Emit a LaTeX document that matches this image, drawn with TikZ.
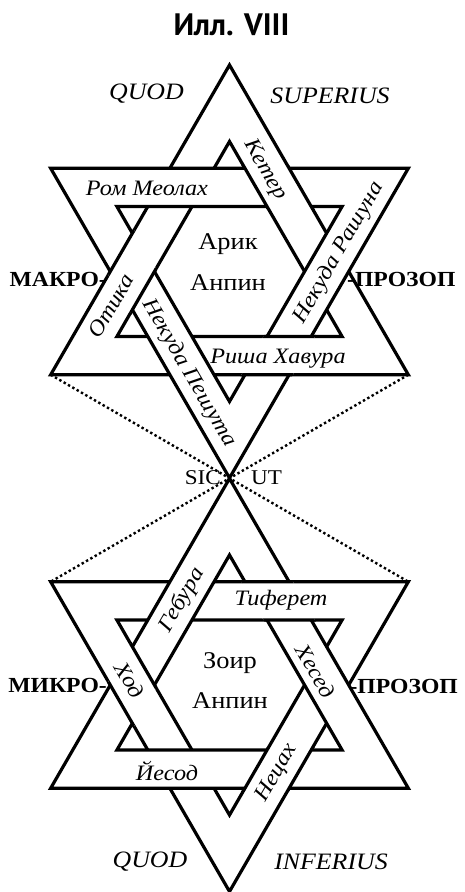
\documentclass[tikz,border=0pt]{standalone}
\usepackage{fontspec}
\setmainfont{Liberation Serif}[FakeStretch=1.1]
\newfontfamily\labfont{Liberation Serif}[FakeStretch=1.1]
\newfontfamily\titlefont{PT Sans}
\tikzset{
  bline/.style={line width=3.2pt, line join=miter, line cap=butt},
  bandfill/.style={bline, fill=white, even odd rule},
  dotline/.style={line width=2.4pt, dash pattern=on 2.4pt off 2.6pt},
  lab/.style={font=\labfont\itshape\fontsize{22}{22}\selectfont, inner sep=0pt},
  latin/.style={font=\labfont\itshape\fontsize{23.5}{23.5}\selectfont, inner sep=0pt},
  centertxt/.style={font=\labfont\fontsize{24}{24}\selectfont, inner sep=0pt},
  sidetxt/.style={font=\labfont\bfseries\fontsize{21.5}{21.5}\selectfont, inner sep=0pt},
  sictxt/.style={font=\labfont\fontsize{21}{21}\selectfont, inner sep=0pt},
  titletxt/.style={font=\titlefont\bfseries\fontsize{31}{31}\selectfont, inner sep=0pt}
}
\newcommand\starbands{%
  \filldraw[bandfill] (90:206.5) -- (210:206.5) -- (330:206.5) -- cycle
                      (90:130) -- (210:130) -- (330:130) -- cycle;
  \filldraw[bandfill] (270:206.5) -- (30:206.5) -- (150:206.5) -- cycle
                      (270:130) -- (30:130) -- (150:130) -- cycle;
  \foreach \a in {0,120,240}{%
    \begin{scope}[rotate=\a]
      \begin{scope}
        \clip (90:206.5) -- (330:206.5) -- (330:130) -- (90:130) -- cycle;
        \fill[white] (-320,62) -- (320,62) -- (320,106.5) -- (-320,106.5) -- cycle;
      \end{scope}
      \begin{scope}
        \clip (-320,62) -- (320,62) -- (320,106.5) -- (-320,106.5) -- cycle;
        \draw[bline] (90:206.5) -- (330:206.5) (90:130) -- (330:130);
      \end{scope}
    \end{scope}
  }%
}
\begin{document}
\begin{tikzpicture}[x=1pt,y=1pt]
\useasboundingbox (0,0) rectangle (465,-892);
% dotted lines
\coordinate (ubl) at (50.67,-374.75);
\coordinate (ubr) at (408.33,-374.75);
\coordinate (lbl) at (50.67,-581.75);
\coordinate (lbr) at (408.33,-581.75);
\draw[dotline] (ubl) -- (lbr);
\draw[dotline] (ubr) -- (lbl);
% stars
\begin{scope}[shift={(229.5,-271.5)}]
  \starbands
\end{scope}
\begin{scope}[shift={(229.5,-685)}, yscale=-1]
  \starbands
\end{scope}
% title
\node[titletxt] (title) at (231.5,-25) {Илл. VIII};
% upper star labels
\node[latin] (quod1) at (146.5,-94) {QUOD};
\node[latin] (superius) at (330,-96) {SUPERIUS};
\node[lab] (rom) at (147,-188) {Ром Меолах};
\node[lab, rotate=-60] (keter) at (265,-170) {Кетер};
\node[lab, rotate=60] (rashuna) at (339,-253) {Некуда Рашуна};
\node[lab, rotate=60] (otika) at (111,-306) {Отика};
\node[lab, rotate=-60] (peshuta) at (189,-373) {Некуда Пешута};
\node[lab] (risha) at (278,-359) {Риша Хавура};
\node[centertxt] (arik) at (228,-244) {Арик};
\node[centertxt] (anpin1) at (228,-283) {Анпин};
\node[sidetxt, anchor=east] (makro) at (107,-279) {МАКРО-};
\node[sidetxt, anchor=west] (prozop1) at (347,-279) {-ПРОЗОП};
% middle
\node[sictxt, anchor=east] (sic) at (221,-478) {SIC};
\node[sictxt, anchor=west] (ut) at (251,-478) {UT};
% lower star labels
\node[lab, rotate=60] (gebura) at (182,-600) {Гебура};
\node[lab] (tiferet) at (281,-600) {Тиферет};
\node[lab, rotate=-60] (hesed) at (316,-671) {Хесед};
\node[lab, rotate=-60] (hod) at (130,-680) {Ход};
\node[centertxt] (zoir) at (230,-663) {Зоир};
\node[centertxt] (anpin2) at (230,-701) {Анпин};
\node[lab] (yesod) at (167,-771) {Йесод};
\node[lab, rotate=60] (netsah) at (277,-773) {Нецах};
\node[sidetxt, anchor=east] (mikro) at (107,-685) {МИКРО-};
\node[sidetxt, anchor=east] (prozop2) at (458,-686) {-ПРОЗОП};
\node[latin] (quod2) at (150,-862) {QUOD};
\node[latin] (inferius) at (331,-862) {INFERIUS};
\end{tikzpicture}
\end{document}
